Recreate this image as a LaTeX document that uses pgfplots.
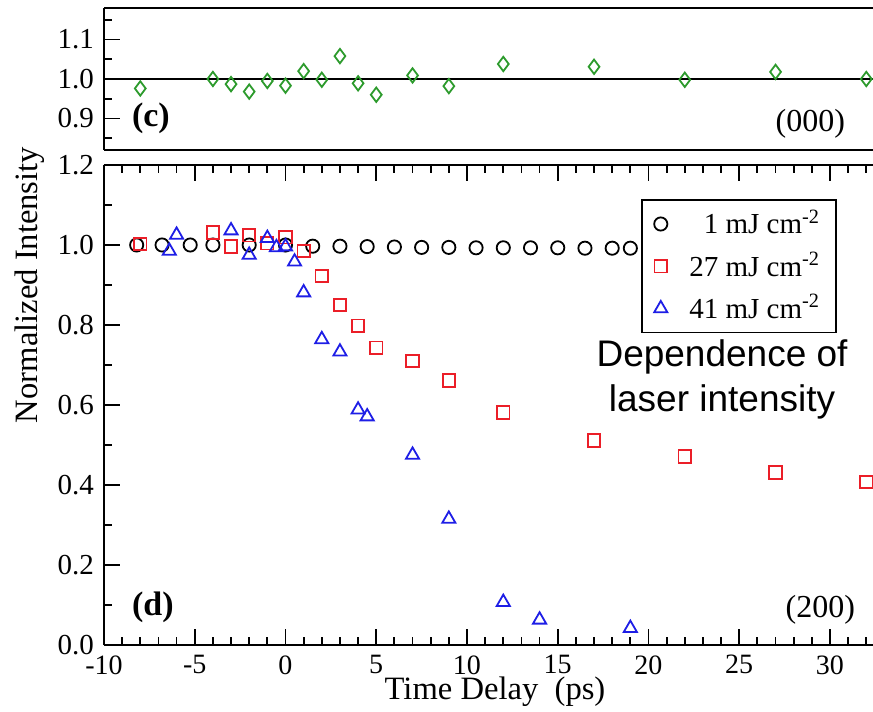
\documentclass[border=0pt]{standalone}
\usepackage{fontspec}
\setmainfont{Liberation Serif}
\newfontfamily\arial{Liberation Sans}
\usepackage{pgfplots}
\pgfplotsset{compat=1.18}
\definecolor{mygreen}{RGB}{45,155,45}
\definecolor{myred}{RGB}{235,30,40}
\definecolor{myblue}{RGB}{30,30,230}
\begin{document}
\fontsize{14.5}{17}\selectfont
\begin{tikzpicture}[trim left=-52pt, trim right=384.5pt]
\path (-52pt,-33.5pt) rectangle (384.5pt,322.5pt);
\pgfplotsset{
  common/.style={
    scale only axis, width=384.5pt,
    xmin=-10, xmax=32.37,
    axis x line*=box, axis y line*=left,
    /pgf/number format/assume math mode=true,
    axis line style={line width=1.2pt},
    every tick/.style={black, line width=0.9pt},
    tick align=inside,
    tick label style={font=\fontsize{14.5}{17}\selectfont},
    xticklabel style={font=\fontsize{14}{17}\selectfont, inner sep=1pt, yshift=-4pt},
    yticklabel style={/pgf/number format/.cd, fixed, fixed zerofill, precision=1},
    every axis plot/.append style={line width=0.9pt},
  }
}
% top panel (c)
\begin{axis}[common, name=top, at={(0,247.5pt)}, anchor=south west, height=71pt,
  ymin=0.82, ymax=1.18, ytick={0.9,1.0,1.1}, minor ytick={0.85,0.95,1.05,1.15},
  xtick=\empty, minor xtick={-10,-9,...,32},
  major tick length=8pt, minor tick length=4pt]
\addplot[black, line width=1.1pt, forget plot] coordinates {(-10,1) (32.37,1)};
\addplot[only marks, mark=diamond, mark size=3.6pt, color=mygreen] coordinates {
(-8,0.976) (-4,1.0) (-3,0.987) (-2,0.968) (-1,0.995) (0,0.983) (1,1.02) (2,0.998)
(3,1.058) (4,0.989) (5,0.96) (7,1.009) (9,0.982) (12,1.038) (17,1.031) (22,0.998)
(27,1.018) (32,1.0)};
\node[anchor=west, font=\bfseries\fontsize{17}{20}\selectfont] at (rel axis cs:0.0234,0.225) {(c)};
\node[anchor=east, font=\fontsize{16}{19}\selectfont] at (rel axis cs:0.9766,0.183) {(000)};
\end{axis}
% bottom panel (d)
\begin{axis}[common, name=bot, at={(0,0)}, anchor=south west, height=240pt,
  ymin=0, ymax=1.2, ytick={0,0.2,...,1.2}, minor ytick={0.1,0.3,...,1.1},
  xtick={-10,-5,...,30}, minor xtick={-9,-8,...,32},
  major tick length=8pt, minor tick length=4pt,
  xlabel={Time Delay\ \ (ps)},
  ylabel={Normalized Intensity},
  label style={font=\fontsize{16.3}{19}\selectfont},
  xlabel style={at={(axis description cs:0.5085,-0.1125)}, anchor=base, inner sep=0pt},
  ylabel style={at={(axis description cs:-0.0962,0.75)}, anchor=center},
  legend style={at={(axis description cs:0.953,0.929)}, anchor=north east,
    draw=black, line width=0.8pt, fill=white, inner xsep=6pt, inner ysep=3pt,
    font=\fontsize{14.5}{17}\selectfont, row sep=3pt,
    /tikz/every odd column/.append style={column sep=9pt}},
  legend cell align=right]
\addplot[only marks, mark=o, mark size=3.3pt, color=black] coordinates {
(-8.2,1.0) (-6.8,1.0) (-5.25,1.0) (-4,1.0) (-2,1.0) (0,1.0) (1.5,0.997) (3,0.997)
(4.5,0.996) (6,0.995) (7.5,0.994) (9,0.994) (10.5,0.993) (12,0.993) (13.5,0.993)
(15,0.993) (16.5,0.992) (18,0.992) (19,0.992)};
\addlegendentry{1 mJ cm\textsuperscript{-2}}
\addplot[only marks, mark=square, mark size=3.1pt, color=myred] coordinates {
(-8,1.002) (-4,1.031) (-3,0.996) (-2,1.024) (-1,1.004) (0,1.019) (1,0.985) (2,0.922)
(3,0.85) (4,0.798) (5,0.743) (7,0.71) (9,0.661) (12,0.581) (17,0.511) (22,0.471)
(27,0.431) (32,0.407)};
\addlegendentry{27 mJ cm\textsuperscript{-2}}
\addplot[only marks, mark=triangle, mark size=3.8pt, color=myblue] coordinates {
(-6.4,0.985) (-6,1.025) (-3,1.036) (-2,0.975) (-1,1.017) (-0.5,0.994) (0,0.996)
(0.5,0.958) (1,0.881) (2,0.764) (3,0.733) (4,0.588) (4.5,0.571) (7,0.475) (9,0.315)
(12,0.107) (14,0.063) (19,0.042)};
\addlegendentry{41 mJ cm\textsuperscript{-2}}
\node[anchor=west, font=\bfseries\fontsize{17}{20}\selectfont] at (rel axis cs:0.0234,0.079) {(d)};
\node[anchor=east, font=\fontsize{16}{19}\selectfont] at (rel axis cs:0.9896,0.073) {(200)};
\node[align=center, font=\arial\fontsize{18.5}{22.5}\selectfont] at (rel axis cs:0.8037,0.553) {Dependence of\\laser intensity};
\end{axis}
\end{tikzpicture}
\end{document}
